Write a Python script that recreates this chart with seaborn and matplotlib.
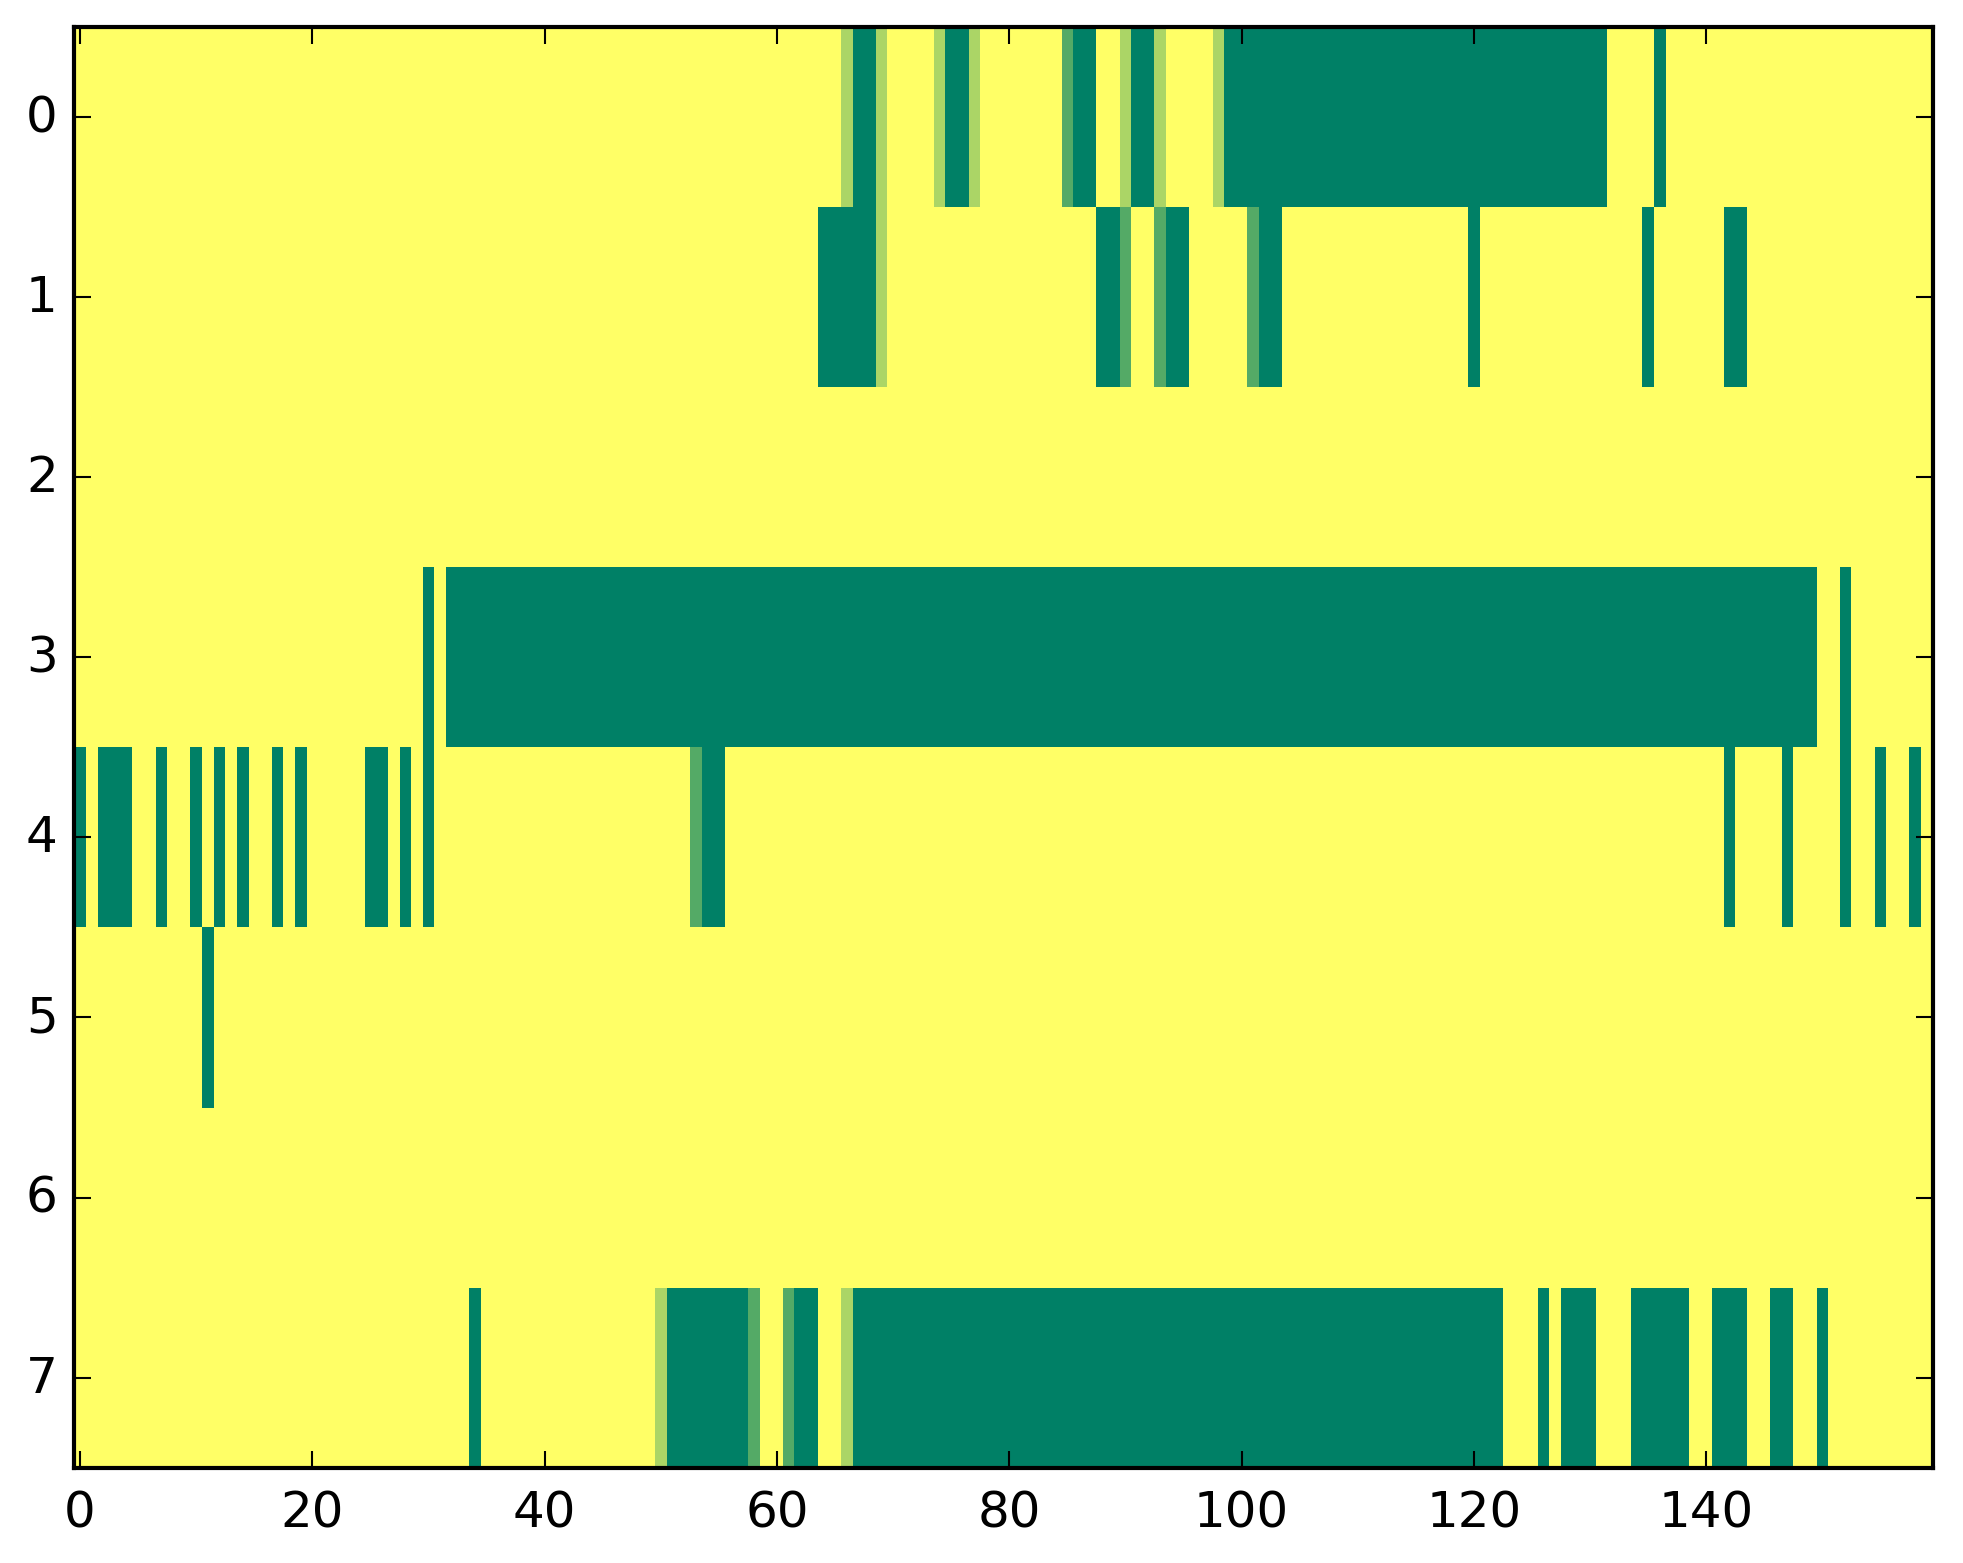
import numpy as np
import pandas as pd
import matplotlib
matplotlib.use("Agg")
import matplotlib.pyplot as plt
import seaborn as sns

n_cols = 160
row_labels = [0, 1, 2, 3, 4, 5, 6, 7]
x_ticks = [0, 20, 40, 60, 80, 100, 120, 140]

# runs per row: (first column, last column, value); everything else is 0
row0 = [(66, 66, 0.33), (67, 68, 1), (69, 69, 0.33),
        (74, 74, 0.33), (75, 76, 1), (77, 77, 0.33),
        (85, 85, 0.67), (86, 87, 1),
        (90, 90, 0.33), (91, 92, 1), (93, 93, 0.33),
        (98, 98, 0.33), (99, 131, 1),
        (136, 136, 1)]
row1 = [(64, 68, 1), (69, 69, 0.33),
        (88, 89, 1), (90, 90, 0.67),
        (93, 93, 0.67), (94, 95, 1),
        (101, 101, 0.67), (102, 103, 1),
        (120, 120, 1), (135, 135, 1), (142, 143, 1)]
row2 = []
row3 = [(30, 30, 1), (32, 149, 1), (152, 152, 1)]
row4 = [(0, 0, 1), (2, 4, 1), (7, 7, 1), (10, 10, 1), (12, 12, 1),
        (14, 14, 1), (17, 17, 1), (19, 19, 1), (25, 26, 1), (28, 28, 1),
        (30, 30, 1), (53, 53, 0.67), (54, 55, 1),
        (142, 142, 1), (147, 147, 1), (152, 152, 1), (155, 155, 1),
        (158, 158, 1)]
row5 = [(11, 11, 1)]
row6 = []
row7 = [(34, 34, 1),
        (50, 50, 0.33), (51, 57, 1), (58, 58, 0.67),
        (61, 61, 0.67), (62, 63, 1),
        (66, 66, 0.33), (67, 122, 1),
        (126, 126, 1), (128, 130, 1), (134, 138, 1), (141, 143, 1),
        (146, 147, 1), (150, 150, 1)]

rows = [row0, row1, row2, row3, row4, row5, row6, row7]
mat = np.zeros((len(rows), n_cols))
for i, runs in enumerate(rows):
    for a, b, v in runs:
        mat[i, a:b + 1] = v
df = pd.DataFrame(mat, index=row_labels)

plt.style.use('classic')
W, H = 1963, 1564
fig = plt.figure(figsize=(W / 300, H / 300), dpi=300, facecolor='white')
ax = fig.add_axes([74.3 / W, 1 - 1468.7 / H, (1932.7 - 74.3) / W, (1468.7 - 28) / H])
sns.heatmap(df, ax=ax, cmap='summer_r', vmin=0, vmax=1, cbar=False)

ax.set_xticks(np.array(x_ticks) + 0.5)
ax.set_xticklabels(x_ticks, rotation=0)
ax.set_yticks(np.array(row_labels) + 0.5)
ax.set_yticklabels(row_labels, rotation=0)
ax.set_xlabel('')
ax.set_ylabel('')
for s in ax.spines.values():
    s.set_visible(True)
    s.set_linewidth(1.0)
    s.set_color('black')
ax.tick_params(direction='in', top=True, right=True, length=4, width=0.5,
               labelsize=12, colors='black')
ax.tick_params(axis='x', pad=5)
ax.tick_params(axis='y', pad=4)
ax.tick_params(labeltop=False, labelright=False)

fig.savefig('out.png', dpi=300, facecolor='white')
